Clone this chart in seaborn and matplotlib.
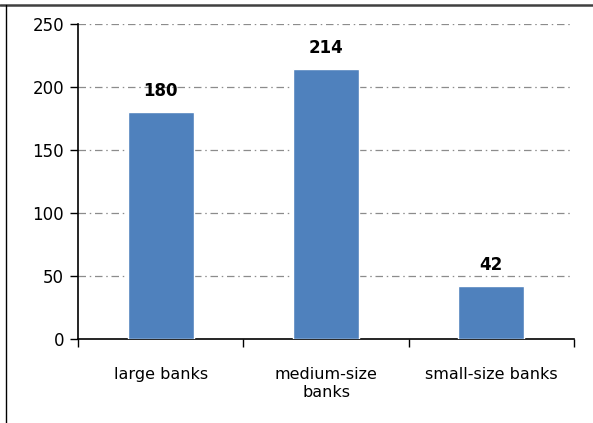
import matplotlib
matplotlib.use("Agg")
import matplotlib.pyplot as plt
from matplotlib.lines import Line2D
import seaborn as sns
import pandas as pd

categories = ["large banks", "medium-size\nbanks", "small-size banks"]
counts = [180, 214, 42]
y_ticks = [0, 50, 100, 150, 200, 250]

sns.set_style("white")
plt.rcParams["font.family"] = ["DejaVu Sans"]
plt.rcParams["text.color"] = "black"
plt.rcParams["xtick.color"] = "black"
plt.rcParams["ytick.color"] = "black"
plt.rcParams["axes.labelcolor"] = "black"

df = pd.DataFrame({"category": categories, "count": counts})

fig = plt.figure(figsize=(5.93, 4.23), dpi=100)
ax = fig.add_axes([78 / 593, 1 - 339 / 423, (574 - 78) / 593, (339 - 24) / 423])

sns.barplot(data=df, x="category", y="count", color="#4F81BD", saturation=1,
            width=0.4, ax=ax, zorder=3)

ax.set_ylim(0, 250)
ax.set_xlim(-0.5, 2.5)
ax.set_yticks(y_ticks)
ax.set_yticklabels([str(t) for t in y_ticks], fontsize=12)

# category boundaries get the tick marks, labels sit at the bar centres
ax.set_xticks([-0.5, 0.5, 1.5, 2.5])
ax.set_xticklabels([])
ax.set_xticks([0, 1, 2], minor=True)
ax.set_xticklabels(categories, minor=True, fontsize=11.5, linespacing=1.3)
ax.tick_params(axis="x", which="minor", length=0, pad=20, labelcolor="black")
ax.tick_params(axis="x", which="major", length=6, width=1, direction="out", color="black", bottom=True)
ax.tick_params(axis="y", length=6, width=1, direction="out", color="black", left=True, pad=4,
               labelcolor="black")
ax.set_xlabel("")
ax.set_ylabel("")

for t in y_ticks[1:]:
    ax.axhline(t, xmin=0, xmax=0.992, color="#8c8c8c", lw=0.9, ls=(0, (6, 3, 1.2, 3)), zorder=1)

for s in ["top", "right"]:
    ax.spines[s].set_visible(False)
for s in ["left", "bottom"]:
    ax.spines[s].set_color("black")
    ax.spines[s].set_linewidth(1.2)

for i, v in enumerate(counts):
    ax.annotate(str(v), (i, v), xytext=(0, 9), textcoords="offset points",
                ha="center", va="bottom", fontsize=12, fontweight="bold", color="black")

# outer frame lines along the top and left edges
fig.add_artist(Line2D([0, 1], [1 - 5 / 423, 1 - 5 / 423], color="#404040", lw=1.8,
                      transform=fig.transFigure))
fig.add_artist(Line2D([6 / 593, 6 / 593], [0, 1 - 5 / 423], color="black", lw=1,
                      transform=fig.transFigure))

fig.savefig("out.png", dpi=100)
